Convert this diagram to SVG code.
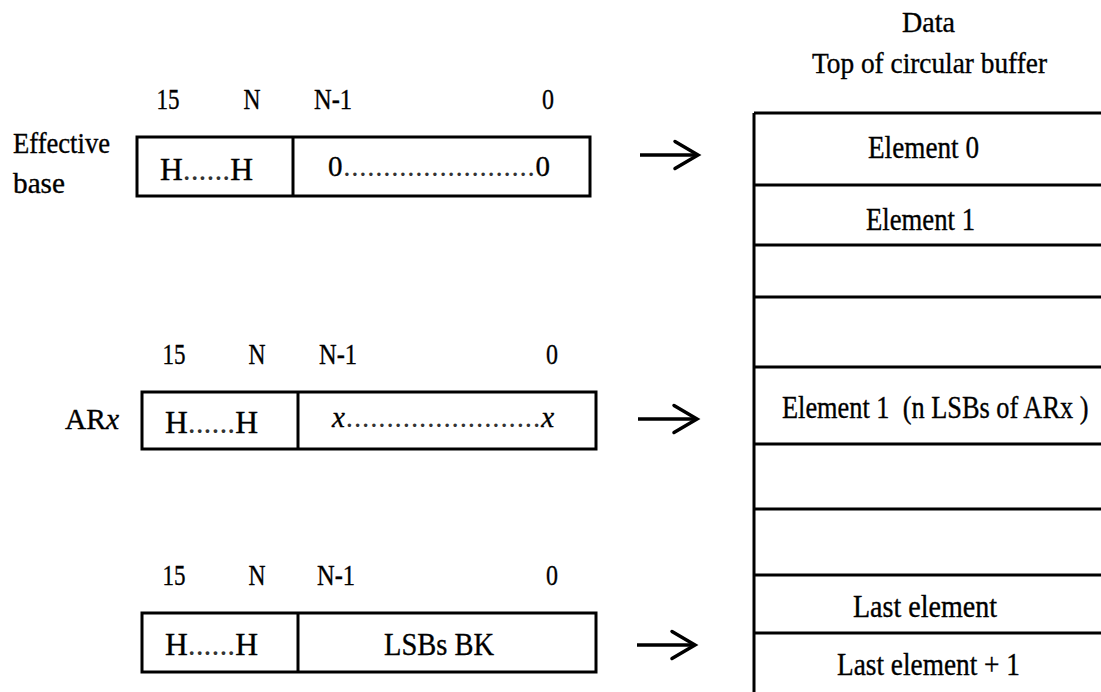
<svg xmlns="http://www.w3.org/2000/svg" width="1101" height="692" viewBox="0 0 1101 692">
<style>
text{font-family:"Times New Roman","Liberation Serif",Tinos,"Noto Serif","DejaVu Serif",Times,serif;fill:#000;stroke:#000;stroke-width:0.35px;}
.lbl{font-size:29px;}
.big{font-size:31px;}
.box{fill:none;stroke:#000;stroke-width:3;}
.ln{stroke:#000;stroke-width:3;fill:none;}
.arr{stroke:#000;stroke-width:3.5;fill:none;marker-end:url(#ah);}
.dots{stroke-width:0;fill:#333;}
.it{font-style:italic;}
</style>
<defs>
<marker id="ah" markerUnits="userSpaceOnUse" viewBox="0 0 28 30" refX="25" refY="15" markerWidth="28" markerHeight="30" orient="auto" overflow="visible">
<path d="M2,1.5 L25,15 L2,28.5" fill="none" stroke="#000" stroke-width="3.5" stroke-linecap="round" stroke-linejoin="miter"/>
</marker>
</defs>
<rect width="1101" height="692" fill="#fff"/>

<g id="effective-base">
<text class="lbl" x="13" y="153" textLength="97" lengthAdjust="spacingAndGlyphs">Effective</text>
<text class="lbl" x="13" y="193" textLength="52" lengthAdjust="spacingAndGlyphs">base</text>
<text class="lbl" x="168" y="109" text-anchor="middle" textLength="23" lengthAdjust="spacingAndGlyphs">15</text>
<text class="lbl" x="252" y="109" text-anchor="middle" textLength="17" lengthAdjust="spacingAndGlyphs">N</text>
<text class="lbl" x="333" y="109" text-anchor="middle" textLength="38" lengthAdjust="spacingAndGlyphs">N-1</text>
<text class="lbl" x="548" y="109" text-anchor="middle" textLength="12" lengthAdjust="spacingAndGlyphs">0</text>
<rect class="box" x="137" y="137" width="453" height="59"/>
<line class="ln" x1="293" y1="137" x2="293" y2="196"/>
<text class="big" x="160" y="180" textLength="93" lengthAdjust="spacingAndGlyphs">H<tspan class="dots">......</tspan>H</text>
<text class="lbl" x="328" y="176" textLength="222" lengthAdjust="spacing">0<tspan class="dots">........................</tspan>0</text>
</g>

<g id="arx">
<text class="lbl" x="65" y="429" textLength="54" lengthAdjust="spacingAndGlyphs">AR<tspan class="it">x</tspan></text>
<text class="lbl" x="174" y="364" text-anchor="middle" textLength="23" lengthAdjust="spacingAndGlyphs">15</text>
<text class="lbl" x="257" y="364" text-anchor="middle" textLength="17" lengthAdjust="spacingAndGlyphs">N</text>
<text class="lbl" x="338" y="364" text-anchor="middle" textLength="38" lengthAdjust="spacingAndGlyphs">N-1</text>
<text class="lbl" x="552" y="364" text-anchor="middle" textLength="12" lengthAdjust="spacingAndGlyphs">0</text>
<rect class="box" x="142" y="392" width="454" height="57"/>
<line class="ln" x1="298" y1="392" x2="298" y2="449"/>
<text class="big" x="165" y="433" textLength="93" lengthAdjust="spacingAndGlyphs">H<tspan class="dots">......</tspan>H</text>
<text class="lbl" x="332" y="427" textLength="222" lengthAdjust="spacing"><tspan class="it">x</tspan><tspan class="dots">........................</tspan><tspan class="it">x</tspan></text>
</g>

<g id="bk">
<text class="lbl" x="174" y="585" text-anchor="middle" textLength="23" lengthAdjust="spacingAndGlyphs">15</text>
<text class="lbl" x="257" y="585" text-anchor="middle" textLength="17" lengthAdjust="spacingAndGlyphs">N</text>
<text class="lbl" x="336" y="585" text-anchor="middle" textLength="38" lengthAdjust="spacingAndGlyphs">N-1</text>
<text class="lbl" x="552" y="585" text-anchor="middle" textLength="12" lengthAdjust="spacingAndGlyphs">0</text>
<rect class="box" x="142" y="613" width="454" height="59"/>
<line class="ln" x1="298" y1="613" x2="298" y2="672"/>
<text class="big" x="165" y="655" textLength="93" lengthAdjust="spacingAndGlyphs">H<tspan class="dots">......</tspan>H</text>
<text class="big" x="384" y="655" textLength="110" lengthAdjust="spacingAndGlyphs">LSBs BK</text>
</g>

<g id="buffer">
<text class="lbl" x="902" y="32" textLength="53" lengthAdjust="spacingAndGlyphs">Data</text>
<text class="lbl" x="812" y="73" textLength="235" lengthAdjust="spacingAndGlyphs">Top of circular buffer</text>
<line class="ln" x1="754" y1="113" x2="754" y2="692"/>
<line class="ln" x1="754" y1="113" x2="1101" y2="113"/>
<line class="ln" x1="754" y1="185" x2="1101" y2="185"/>
<line class="ln" x1="754" y1="245" x2="1101" y2="245"/>
<line class="ln" x1="754" y1="297" x2="1101" y2="297"/>
<line class="ln" x1="754" y1="367" x2="1101" y2="367"/>
<line class="ln" x1="754" y1="444" x2="1101" y2="444"/>
<line class="ln" x1="754" y1="509" x2="1101" y2="509"/>
<line class="ln" x1="754" y1="575" x2="1101" y2="575"/>
<line class="ln" x1="754" y1="633" x2="1101" y2="633"/>
<text class="big" x="868" y="158" textLength="111" lengthAdjust="spacingAndGlyphs">Element 0</text>
<text class="big" x="866" y="230" textLength="109" lengthAdjust="spacingAndGlyphs">Element 1</text>
<text class="big" transform="translate(782,418) scale(0.85,1)" x="0" y="0" xml:space="preserve">Element 1  (n LSBs of ARx )</text>
<text class="big" x="853" y="617" textLength="144" lengthAdjust="spacingAndGlyphs">Last element</text>
<text class="big" x="837" y="675" textLength="183" lengthAdjust="spacingAndGlyphs">Last element + 1</text>
</g>

<g id="connectors">
<line class="arr" x1="640" y1="155" x2="698" y2="155"/>
<line class="arr" x1="638" y1="419" x2="697" y2="419"/>
<line class="arr" x1="637" y1="645" x2="695" y2="645"/>
</g>
</svg>
